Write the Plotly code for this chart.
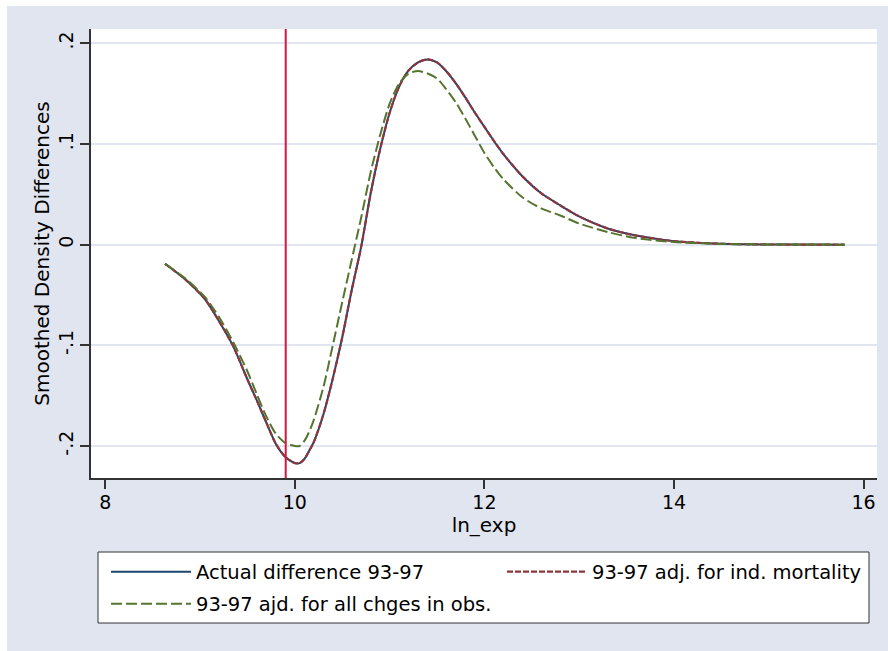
import plotly.graph_objects as go

# Evaluation grid (ln_exp) shared by the three smoothed density differences
ln_exp = [8.63, 8.85, 9.05, 9.2, 9.35, 9.5, 9.6, 9.7, 9.8, 9.9, 10.0, 10.05,
          10.1, 10.15, 10.2, 10.3, 10.4, 10.5, 10.6, 10.7, 10.8, 10.9, 11.0,
          11.1, 11.2, 11.3, 11.4, 11.5, 11.6, 11.7, 11.8, 11.9, 12.0, 12.1,
          12.2, 12.4, 12.6, 12.8, 13.0, 13.3, 13.6, 14.0, 14.4, 14.8, 15.2, 15.8]

actual_diff = [-0.019, -0.035, -0.054, -0.076, -0.101, -0.134, -0.155, -0.177,
               -0.198, -0.211, -0.217, -0.217, -0.213, -0.205, -0.196, -0.169,
               -0.133, -0.092, -0.045, -0.002, 0.051, 0.095, 0.131, 0.157,
               0.173, 0.181, 0.184, 0.181, 0.172, 0.160, 0.146, 0.131, 0.117,
               0.103, 0.090, 0.068, 0.051, 0.039, 0.028, 0.016, 0.009, 0.0035,
               0.0012, 0.0003, 0.0001, 0.0]

adj_mortality = [-0.019, -0.035, -0.054, -0.076, -0.101, -0.134, -0.155, -0.177,
                 -0.198, -0.211, -0.217, -0.217, -0.213, -0.205, -0.196, -0.169,
                 -0.133, -0.092, -0.045, -0.002, 0.051, 0.095, 0.131, 0.157,
                 0.173, 0.181, 0.184, 0.181, 0.172, 0.160, 0.146, 0.131, 0.117,
                 0.103, 0.090, 0.068, 0.051, 0.039, 0.028, 0.016, 0.009, 0.0035,
                 0.0012, 0.0003, 0.0001, 0.0]

adj_all_changes = [-0.019, -0.034, -0.052, -0.072, -0.097, -0.126, -0.149, -0.171,
                   -0.188, -0.197, -0.200, -0.200, -0.195, -0.186, -0.174, -0.142,
                   -0.100, -0.057, -0.015, 0.027, 0.072, 0.109, 0.140, 0.160,
                   0.170, 0.1725, 0.170, 0.165, 0.154, 0.141, 0.125, 0.108, 0.091,
                   0.077, 0.065, 0.047, 0.036, 0.029, 0.021, 0.0125, 0.0065, 0.0026,
                   0.001, 0.0003, 0.0001, 0.0]

series_names = ["Actual difference 93-97",
                "93-97 adj. for ind. mortality",
                "93-97 ajd. for all chges in obs."]

x_ticks = [8, 10, 12, 14, 16]
y_ticks = [-0.2, -0.1, 0, 0.1, 0.2]
y_tick_text = ["-.2", "-.1", "0", ".1", ".2"]

poverty_line = 9.9035  # ln(20000)

BG = "#e0e5ef"
FONT = "DejaVu Sans"

W, H = 888, 651
ML, MR, MT, MB = 91, 11, 29, 173
PW, PH = W - ML - MR, H - MT - MB


def px_x(p):
    return (p - ML) / PW


def px_y(p):
    return (H - MB - p) / PH


fig = go.Figure()

fig.add_trace(go.Scatter(
    x=ln_exp, y=actual_diff, name=series_names[0], mode="lines",
    line=dict(color="#1a476f", width=2, shape="spline", smoothing=0.7),
    legend="legend"))
fig.add_trace(go.Scatter(
    x=ln_exp, y=adj_mortality, name=series_names[1], mode="lines",
    line=dict(color="#90353b", width=2.2, dash="6px,2px", shape="spline", smoothing=0.7),
    legend="legend2"))
fig.add_trace(go.Scatter(
    x=ln_exp, y=adj_all_changes, name=series_names[2], mode="lines",
    line=dict(color="#55752f", width=2, dash="11px,4px", shape="spline", smoothing=0.7),
    legend="legend3"))

# vertical reference line
fig.add_shape(type="line", xref="x", yref="paper", x0=poverty_line, x1=poverty_line,
              y0=0, y1=1, line=dict(color="#d4173f", width=2), layer="above")

# legend frame
fig.add_shape(type="rect", xref="paper", yref="paper",
              x0=px_x(98), x1=px_x(869), y0=px_y(623), y1=px_y(552),
              fillcolor="white", line=dict(color="#333333", width=1), layer="below")

# thin white border at the top and left of the graph region
fig.add_shape(type="rect", xref="paper", yref="paper",
              x0=px_x(0), x1=px_x(7), y0=px_y(H), y1=px_y(0),
              fillcolor="white", line=dict(width=0), layer="below")
fig.add_shape(type="rect", xref="paper", yref="paper",
              x0=px_x(0), x1=px_x(W), y0=px_y(6), y1=px_y(0),
              fillcolor="white", line=dict(width=0), layer="below")

legend_common = dict(bgcolor="rgba(0,0,0,0)", borderwidth=0, xanchor="left",
                     yanchor="middle", xref="paper", yref="paper", itemwidth=80,
                     font=dict(family=FONT, size=19.5, color="black"))

fig.update_layout(
    width=W, height=H,
    margin=dict(l=ML, r=MR, t=MT, b=MB, pad=0),
    paper_bgcolor=BG, plot_bgcolor="white",
    font=dict(family=FONT, color="black"),
    showlegend=True,
    legend=dict(x=px_x(106), y=px_y(572), **legend_common),
    legend2=dict(x=px_x(502), y=px_y(572), **legend_common),
    legend3=dict(x=px_x(106), y=px_y(604), **legend_common),
    xaxis=dict(
        range=[7.849, 16.142], tickvals=x_ticks, ticks="outside", ticklen=9,
        tickwidth=1.5, tickcolor="#333333", showline=True, linecolor="#333333",
        linewidth=1.5, showgrid=False, zeroline=False, ticklabelstandoff=-3,
        tickfont=dict(family=FONT, size=19, color="black"),
        title=dict(text="ln_exp", font=dict(family=FONT, size=20, color="black"),
                   standoff=0),
    ),
    yaxis=dict(
        range=[-0.2318, 0.2142], tickvals=y_ticks, ticktext=y_tick_text,
        tickangle=-90, ticks="outside", ticklen=9, tickwidth=1.5,
        tickcolor="#333333", showline=True, linecolor="#333333", linewidth=1.5,
        showgrid=True, gridcolor=BG, gridwidth=1.6, zeroline=False,
        tickfont=dict(family=FONT, size=19, color="black"),
        title=dict(text="Smoothed Density Differences",
                   font=dict(family=FONT, size=20, color="black"), standoff=0),
    ),
)

fig.write_html("out.html")
